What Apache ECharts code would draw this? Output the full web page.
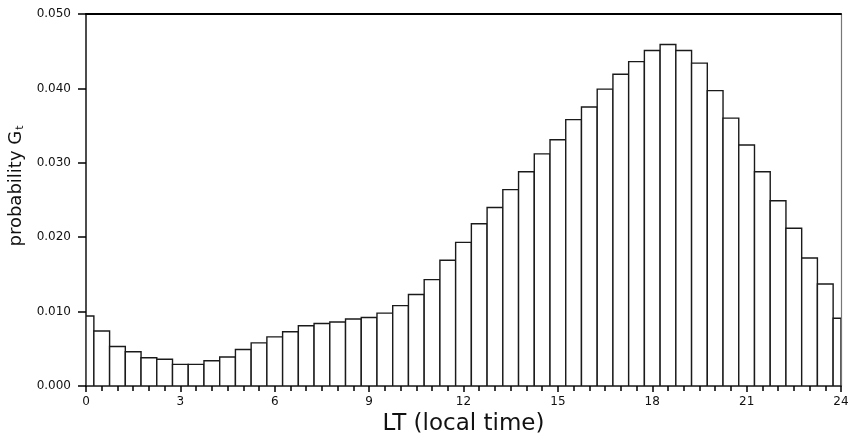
<!DOCTYPE html>
<html>
<head>
<meta charset="utf-8">
<script src="https://cdn.jsdelivr.net/npm/echarts@6/dist/echarts.min.js"></script>
<style>html,body{margin:0;padding:0;background:#fff;}#c{width:850px;height:435px;}</style>
</head>
<body>
<div id="c"></div>
<script>
// Local time (bin centres, hours)
const localTime = [0,0.5,1,1.5,2,2.5,3,3.5,4,4.5,5,5.5,6,6.5,7,7.5,8,8.5,9,9.5,10,10.5,11,11.5,12,12.5,13,13.5,14,14.5,15,15.5,16,16.5,17,17.5,18,18.5,19,19.5,20,20.5,21,21.5,22,22.5,23,23.5,24];
// Probability G_t
const probability = [0.0094,0.0074,0.0053,0.0046,0.0038,0.0036,0.0029,0.0029,0.0034,0.0039,0.0049,0.0058,0.0066,0.0073,0.0081,0.0084,0.0086,0.0090,0.0092,0.0098,0.0108,0.0123,0.0143,0.0169,0.0193,0.0218,0.0240,0.0264,0.0288,0.0312,0.0331,0.0358,0.0375,0.0399,0.0419,0.0436,0.0451,0.0459,0.0451,0.0434,0.0397,0.0360,0.0324,0.0288,0.0249,0.0212,0.0172,0.0137,0.0091];
const xTicks = [0,3,6,9,12,15,18,21,24];
const yTicks = [0.000,0.010,0.020,0.030,0.040,0.050];

const data = localTime.map((t,i)=>[t, probability[i]]);
const halfBin = (localTime[1]-localTime[0])/2;
const FONT = 'DejaVu Sans';
const chart = echarts.init(document.getElementById('c'), null, {renderer:'canvas'});
chart.setOption({
  backgroundColor:'#ffffff',
  animation:false,
  grid:{left:86, right:9, top:14, bottom:49, show:false, outerBoundsMode:'none', containLabel:false},
  xAxis:[{
    type:'value', min:xTicks[0], max:xTicks[xTicks.length-1], interval:3,
    name:'LT (local time)', nameLocation:'middle', nameGap:16,
    nameTextStyle:{fontFamily:FONT, fontSize:23, color:'#111', verticalAlign:'top'},
    axisLine:{show:true, onZero:false, lineStyle:{color:'#111', width:1.5}},
    axisTick:{show:true, inside:false, length:6, lineStyle:{color:'#000', width:1.5}},
    minorTick:{show:true, splitNumber:6, length:5, lineStyle:{color:'#000', width:1.5}},
    splitLine:{show:false},
    axisLabel:{fontFamily:FONT, fontSize:12, color:'#111', margin:10, formatter:v=>String(v)}
  },{
    type:'value', position:'top', min:xTicks[0], max:xTicks[xTicks.length-1],
    axisLine:{show:true, onZero:false, lineStyle:{color:'#000', width:2}},
    axisTick:{show:false}, axisLabel:{show:false}, splitLine:{show:false}
  }],
  yAxis:[{
    type:'value', min:yTicks[0], max:yTicks[yTicks.length-1], interval:0.01,
    name:'probability {g|G}{s|t}', nameLocation:'middle', nameGap:56, nameRotate:90,
    nameTextStyle:{fontFamily:FONT, fontSize:18, color:'#111', padding:[0,0,0,28],
      rich:{g:{fontFamily:FONT, fontSize:18, color:'#111'}, s:{fontFamily:FONT, fontSize:11, color:'#111', verticalAlign:'bottom', padding:[0,0,0,1]}}},
    axisLine:{show:true, onZero:false, lineStyle:{color:'#111', width:1.5}},
    axisTick:{show:true, inside:false, length:8, lineStyle:{color:'#000', width:1.5}},
    splitLine:{show:false},
    axisLabel:{fontFamily:FONT, fontSize:12, color:'#111', margin:15, formatter:v=>v.toFixed(3)}
  },{
    type:'value', position:'right', min:yTicks[0], max:yTicks[yTicks.length-1],
    axisLine:{show:true, onZero:false, lineStyle:{color:'#777', width:1.2}},
    axisTick:{show:false}, axisLabel:{show:false}, splitLine:{show:false}
  }],
  series:[{
    type:'custom', data:data, encode:{x:0, y:1}, xAxisIndex:0, yAxisIndex:0, clip:true,
    renderItem:(params, api)=>{
      const t = api.value(0), v = api.value(1);
      const p0 = api.coord([t - halfBin, v]);
      const p1 = api.coord([t + halfBin, 0]);
      const cs = params.coordSys;
      const shape = echarts.graphic.clipRectByRect(
        {x:p0[0], y:p0[1], width:p1[0]-p0[0], height:p1[1]-p0[1]},
        {x:cs.x, y:cs.y, width:cs.width, height:cs.height});
      return shape && {type:'rect', shape:shape, style:{fill:'#ffffff', stroke:'#1a1a1a', lineWidth:1.4}};
    }
  }]
});
</script>
</body>
</html>
